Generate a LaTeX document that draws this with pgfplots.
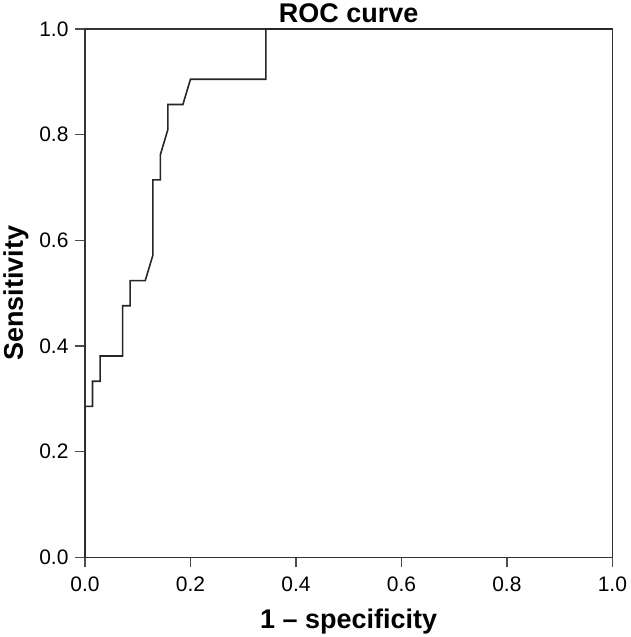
\documentclass[border=0pt]{standalone}
\usepackage{pgfplots}
\pgfplotsset{compat=1.18}
\usepackage{fontspec}
\setmainfont{Liberation Sans}
\begin{document}
\begin{tikzpicture}
\begin{axis}[
  scale only axis,
  width=528pt, height=529pt,
  xmin=0, xmax=1, ymin=0, ymax=1,
  xtick={0,0.2,...,1.0}, ytick={0,0.2,...,1.0},
  xticklabel style={/pgf/number format/.cd,fixed,fixed zerofill,precision=1},
  yticklabel style={/pgf/number format/.cd,fixed,fixed zerofill,precision=1},
  /pgf/number format/assume math mode=true,
  tick label style={font=\fontsize{21}{24}\selectfont},
  xticklabel shift=6pt,
  yticklabel shift=3pt,
  tick align=outside, tick pos=left,
  major tick length=10pt,
  every tick/.style={black!70, line width=1.5pt},
  axis line style={black!80, line width=1.5pt},
  title={\bfseries ROC curve},
  title style={font=\fontsize{27}{30}\selectfont, yshift=-3pt},
  xlabel={\bfseries 1 -- specificity},
  ylabel={\bfseries Sensitivity},
  label style={font=\fontsize{27}{30}\selectfont},
  xlabel shift=10pt,
  ylabel shift=4pt,
]
\addplot[black!85, line width=1.6pt] coordinates {
(0,0) (0,0.2857) (0.0143,0.2857) (0.0143,0.3333) (0.0286,0.3333)
(0.0286,0.3810) (0.0714,0.3810) (0.0714,0.4762) (0.0857,0.4762)
(0.0857,0.5238) (0.1143,0.5238) (0.1286,0.5714) (0.1286,0.7143)
(0.1429,0.7143) (0.1429,0.7619) (0.1571,0.8095) (0.1571,0.8571)
(0.1857,0.8571) (0.2000,0.9048) (0.3429,0.9048) (0.3429,1) (1,1)
};
\end{axis}
\end{tikzpicture}
\end{document}
